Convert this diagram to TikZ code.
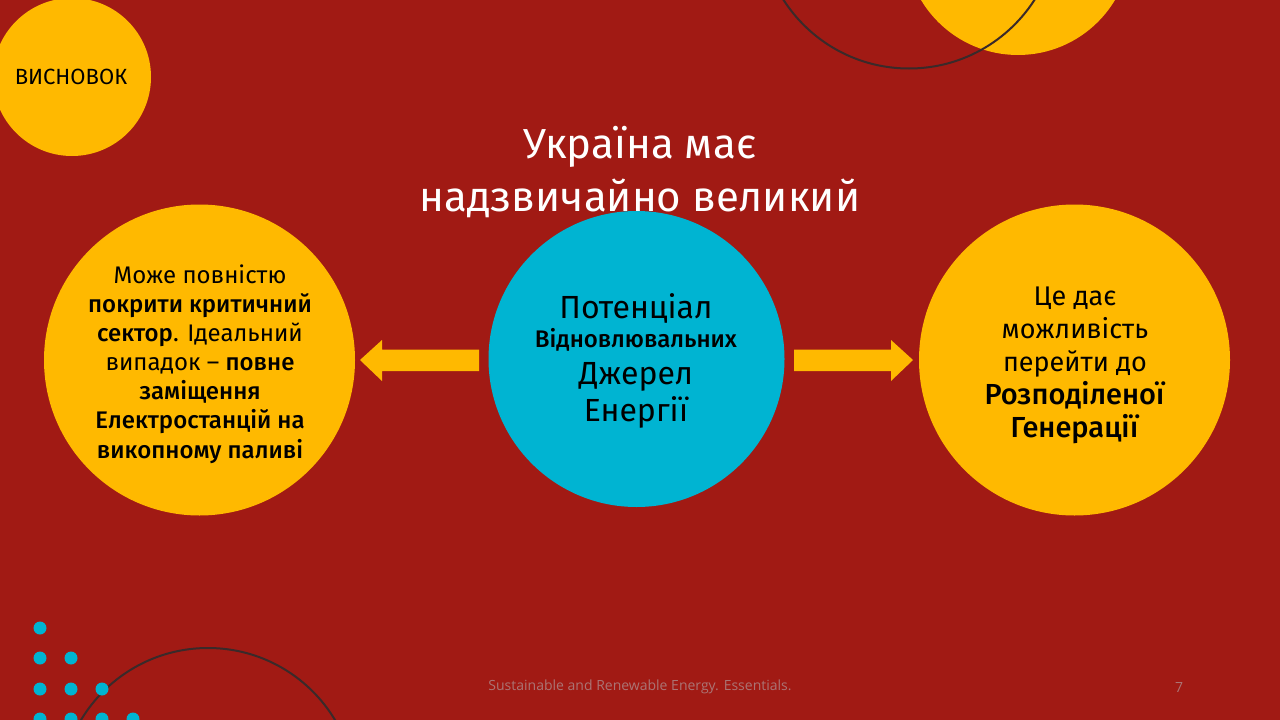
\documentclass[tikz,border=0pt]{standalone}
\usepackage{fontspec}
\setmainfont{Fira Sans}[BoldFont={Fira Sans Medium}]
\newfontfamily\foot{Open Sans}
\definecolor{bgred}{HTML}{A11A14}
\definecolor{amber}{HTML}{FFB900}
\definecolor{teal}{HTML}{00B4D2}
\definecolor{ink}{HTML}{3A2A2A}
\definecolor{foottxt}{HTML}{AB7474}
\tikzset{x=1pt,y=-1pt,
 disc/.style={circle,fill=amber,inner sep=0pt},
 dot/.style={circle,fill=teal,minimum size=13pt,inner sep=0pt},
 arc/.style={circle,draw=ink,line width=2pt,inner sep=0pt},
 arrowshape/.style={fill=amber,draw=none}}
\begin{document}
\begin{tikzpicture}
\useasboundingbox (0,0) rectangle (1280,720);
\begin{scope}
\clip (0,0) rectangle (1280,720);
\fill[bgred] (0,0) rectangle (1280,720);
\node[disc,minimum size=226pt] (topdisc) at (1018,-58) {};
\node[arc,minimum size=298pt] (toparc) at (909,-80.5) {};
\node[disc,minimum size=158pt] (cornerdisc) at (72,77) {};
\node[arc,minimum size=296pt] (botarc) at (208,796) {};
\foreach \n/\px/\py in {a/40/628,b/40/658,c/71/658,d/40/689,e/71/689,f/102/689,g/40/719,h/71/719,i/102/719,j/133/719}
  \node[dot] (dot\n) at (\px,\py) {};
\end{scope}
\node[font=\fontsize{22}{26}\selectfont,text=black] (concl) at (71,77) {ВИСНОВОК};
\node[align=center,text=white,font=\fontsize{42}{53}\selectfont] (title) at (640,172) {Україна має\\надзвичайно великий};
\node[disc,minimum size=311pt] (left) at (199.5,360) {};
\node[circle,fill=teal,inner sep=0pt,minimum size=296pt] (mid) at (636.5,359) {};
\node[disc,minimum size=311pt] (right) at (1074.5,360) {};
\node[align=center,text=black,font=\fontsize{24}{29.1}\selectfont] (ltext) at (200,364) {Може повністю\\\textbf{покрити критичний}\\\textbf{сектор}. Ідеальний\\випадок – \textbf{повне}\\\textbf{заміщення}\\\textbf{Електростанцій на}\\\textbf{викопному паливі}};
\node[align=center,text=black] (mtext) at (636,361) {\fontsize{32}{32}\selectfont Потенціал\\[4pt]\fontsize{24}{24}\selectfont\textbf{Відновлювальних}\\[10pt]\fontsize{32}{32}\selectfont Джерел\\[4pt]\fontsize{32}{32}\selectfont Енергії};
\node[align=center,text=black,font=\fontsize{27}{33}\selectfont] (rtext) at (1075,365) {Це дає\\можливість\\перейти до\\\fontsize{29}{33}\selectfont\textbf{Розподіленої}\\\fontsize{29}{33}\selectfont\textbf{Генерації}};
\fill[arrowshape] (479,349.5) -- (382,349.5) -- (382,340) -- (360,360) -- (382,381) -- (382,371) -- (479,371) -- cycle;
\fill[arrowshape] (794,349.5) -- (891,349.5) -- (891,340) -- (913,360) -- (891,381) -- (891,371) -- (794,371) -- cycle;
\node[text=foottxt,font=\foot\fontsize{14}{16}\selectfont] (foot) at (640,687) {Sustainable and Renewable Energy. Essentials.};
\node[text=foottxt,font=\foot\fontsize{14}{16}\selectfont] (num) at (1179,687) {7};
\end{tikzpicture}
\end{document}
